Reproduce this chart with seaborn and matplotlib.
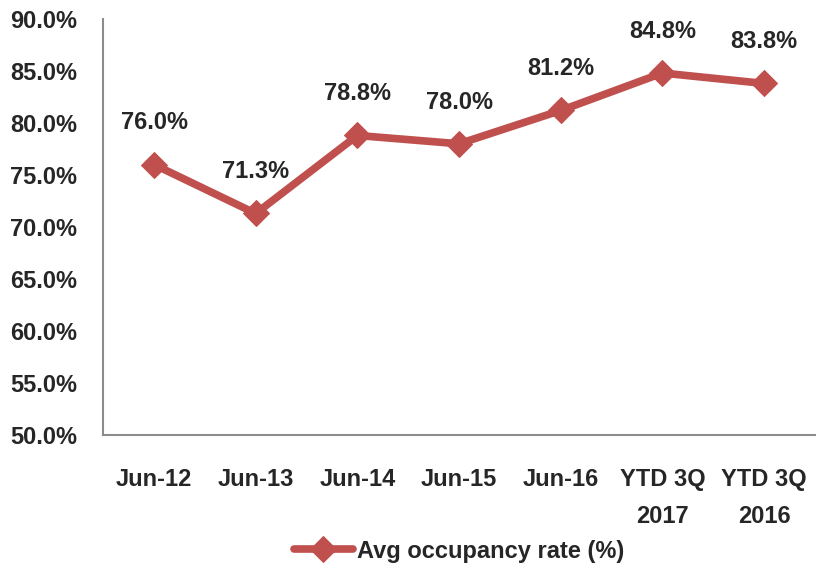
import pandas as pd
import numpy as np
import matplotlib
matplotlib.use("Agg")
import matplotlib.pyplot as plt
import seaborn as sns
from matplotlib.ticker import FuncFormatter, FixedLocator

periods = ["Jun-12", "Jun-13", "Jun-14", "Jun-15", "Jun-16", "YTD 3Q\n2017", "YTD 3Q\n2016"]
occupancy = [76.0, 71.3, 78.8, 78.0, 81.2, 84.8, 83.8]
series_name = "Avg occupancy rate (%)"

df = pd.DataFrame({"period": periods, "rate": occupancy})

sns.set_style("white")
plt.rcParams["font.family"] = ["Liberation Sans", "DejaVu Sans"]
plt.rcParams["font.weight"] = "bold"

red = "#C0504D"
grey = "#8C8C8C"
fs = 17

fig = plt.figure(figsize=(8.19, 5.74), dpi=100)
ax = fig.add_axes([0.126, 0.242, 0.869, 0.725])

sns.lineplot(data=df, x="period", y="rate", ax=ax, color=red, linewidth=5.5,
             marker="D", markersize=13, markeredgecolor=red, sort=False,
             label=series_name)

# value labels above each point
for i, v in enumerate(occupancy):
    ax.annotate(f"{v:.1f}%", (i, v), xytext=(0, 30), textcoords="offset points",
                ha="center", va="center", fontsize=fs, fontweight="bold")

ax.set_xlim(-0.5, len(periods) - 0.5)
ax.set_ylim(50, 90)
ax.set_yticks(np.arange(50, 90.1, 5))
ax.yaxis.set_major_formatter(FuncFormatter(lambda y, _: f"{y:.1f}%"))

# labels at category centres, tick marks at boundaries
ax.set_xticks(range(len(periods)))
ax.set_xticklabels(periods, linespacing=1.75)
ax.xaxis.set_minor_locator(FixedLocator(np.arange(-0.5, len(periods), 1)))
ax.tick_params(axis="x", which="major", length=0, pad=24, labelsize=fs)
ax.tick_params(axis="x", which="minor", length=7, width=1.5, color=grey, direction="out")
ax.tick_params(axis="y", length=7, width=1.5, color=grey, direction="out", pad=12, labelsize=fs)
for lab in ax.get_xticklabels() + ax.get_yticklabels():
    lab.set_fontweight("bold")

ax.set_xlabel("")
ax.set_ylabel("")
sns.despine(ax=ax, top=True, right=True)
for side in ["left", "bottom"]:
    ax.spines[side].set_color(grey)
    ax.spines[side].set_linewidth(1.5)

leg = ax.legend(loc="upper center", bbox_to_anchor=(0.5, -0.2), frameon=False,
                fontsize=fs, handlelength=2.5, handletextpad=0.2)
for t in leg.get_texts():
    t.set_fontweight("bold")

fig.savefig("out.png", dpi=100)
